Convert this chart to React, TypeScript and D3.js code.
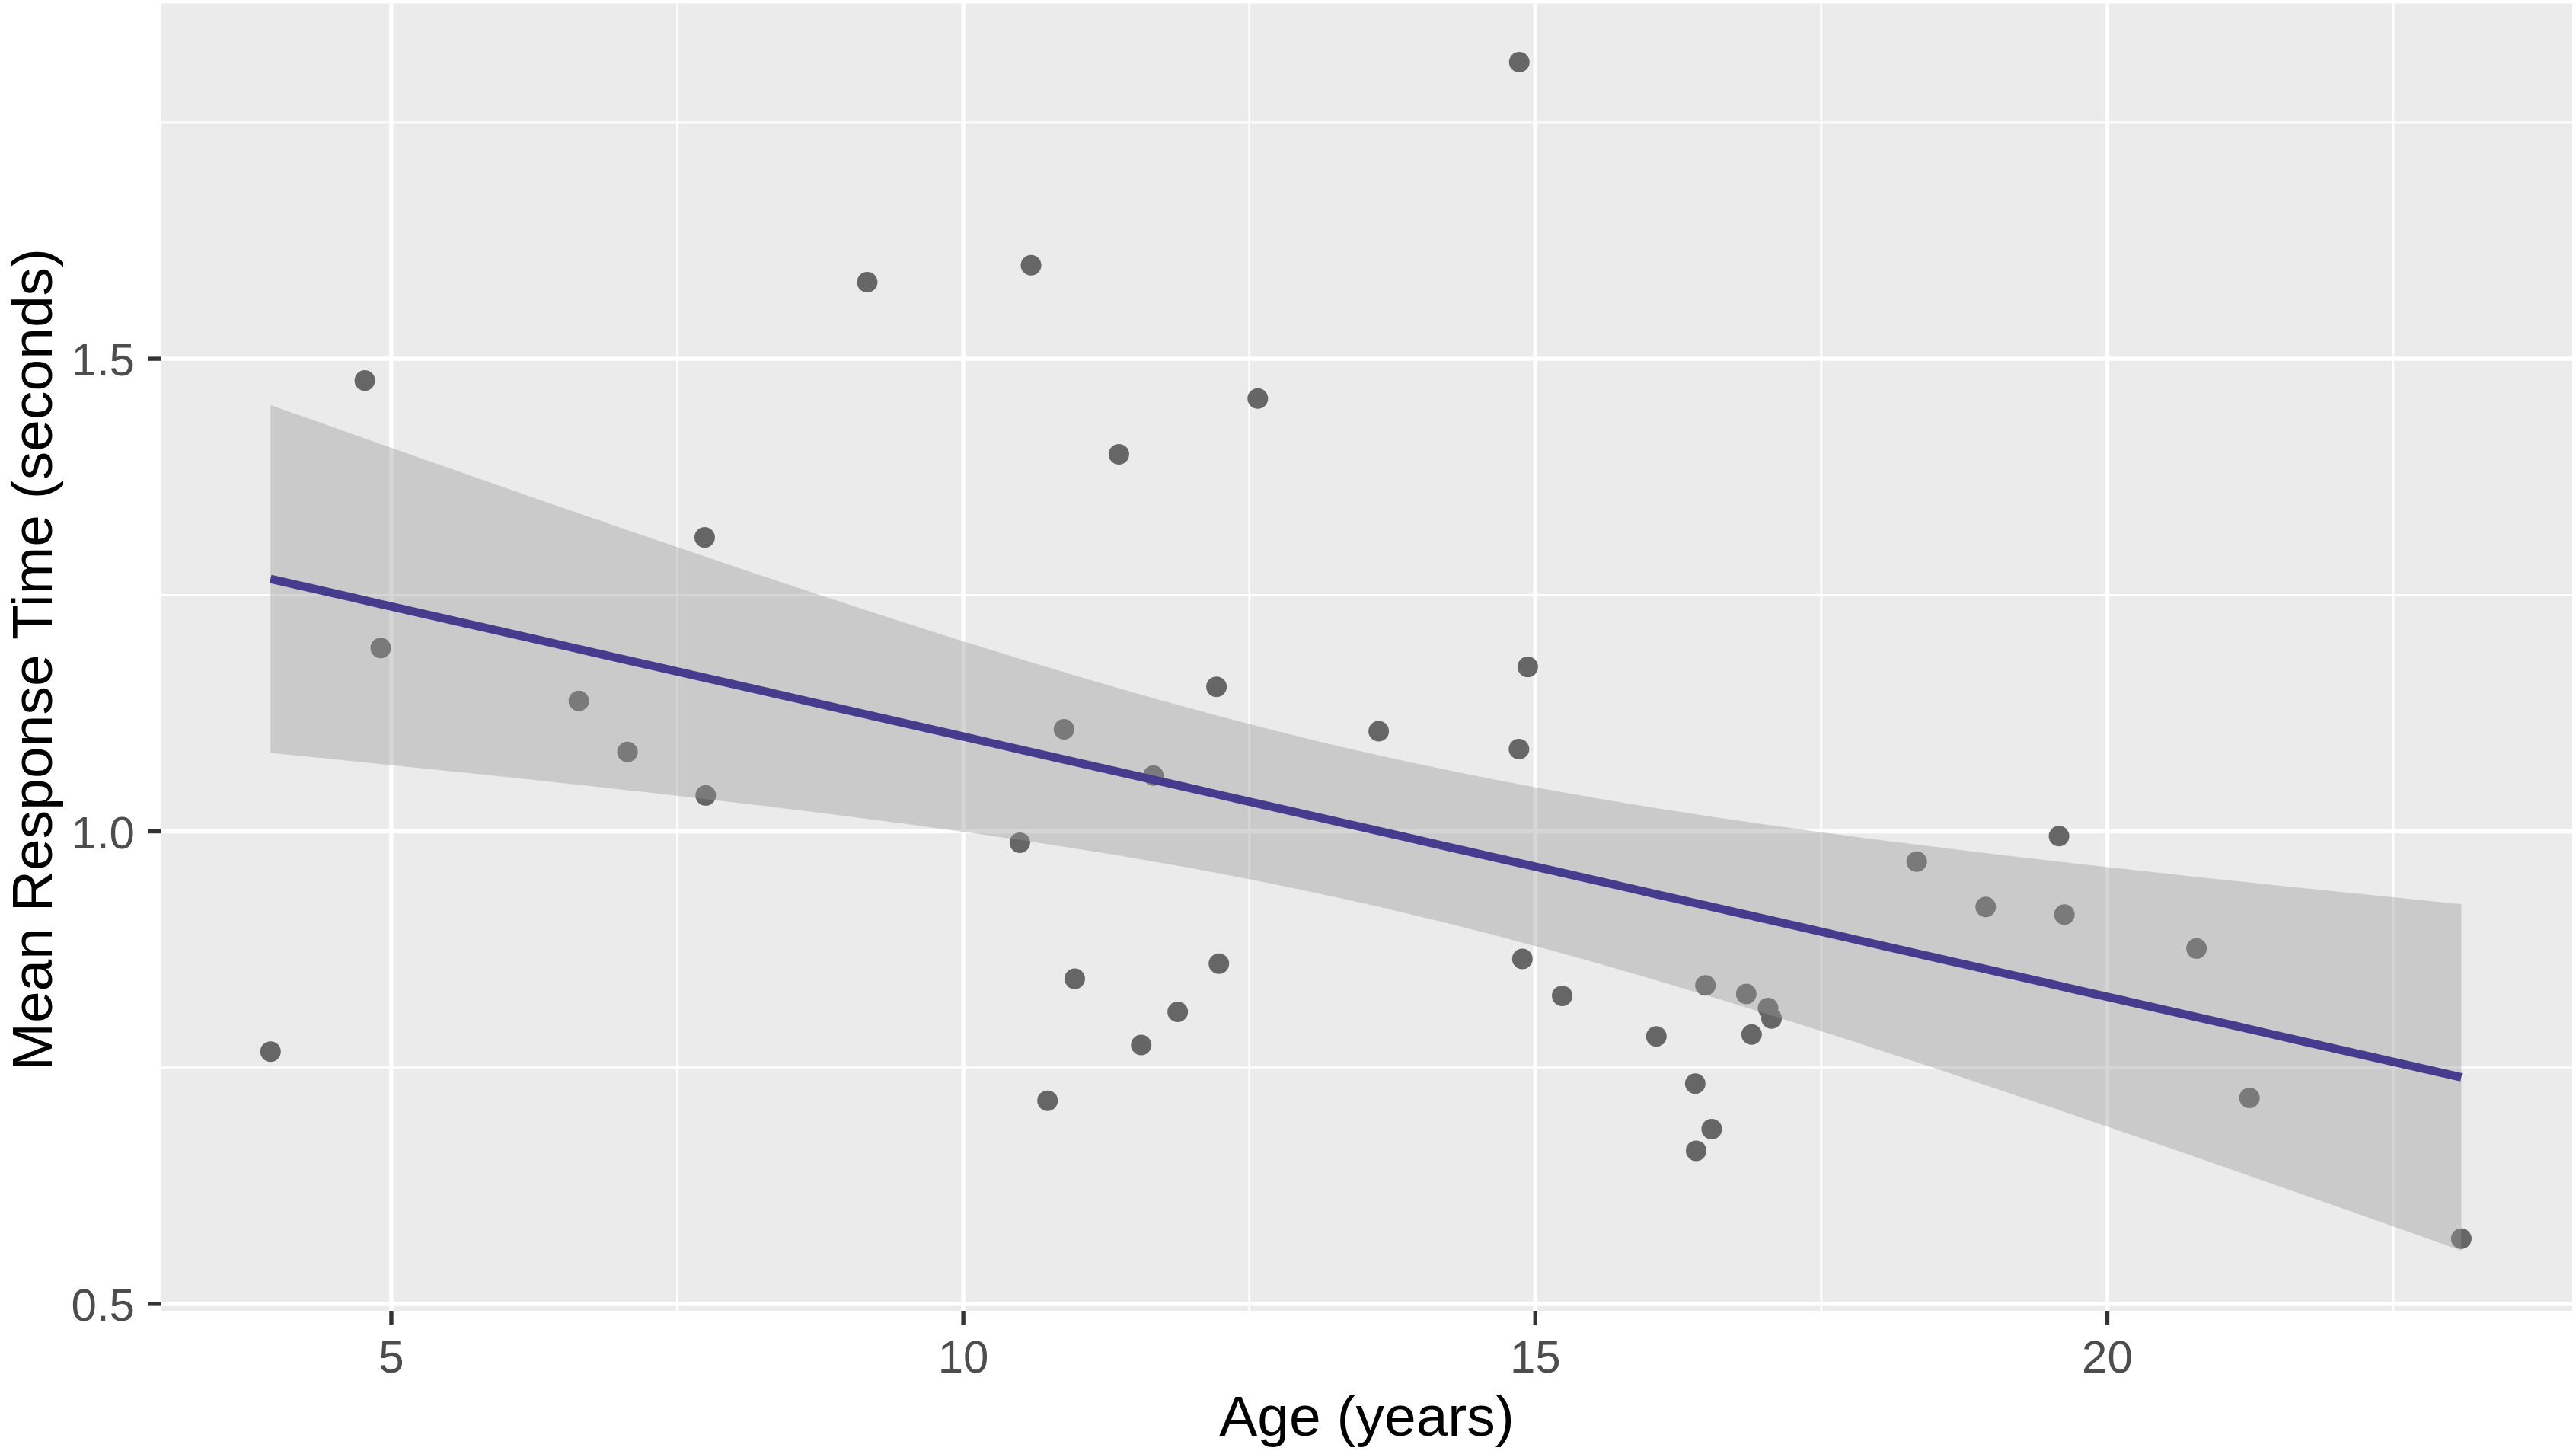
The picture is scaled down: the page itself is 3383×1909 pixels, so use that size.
import React, { useMemo } from 'react';
import * as d3 from 'd3';

// ---- Data ----
const ages = [
  3.944, 4.768, 4.907, 6.639, 7.064, 7.739, 7.748, 9.16, 10.494, 10.592,
  10.736, 10.88, 10.974, 11.36, 11.555, 11.661, 11.874, 12.213, 12.234, 12.574,
  13.631, 14.86, 14.857, 14.887, 14.934, 15.235, 16.058, 16.398, 16.406, 16.487,
  16.542, 16.844, 16.891, 17.035, 17.065, 18.334, 18.937, 19.578, 19.625, 20.78,
  21.243, 23.095,
];
const responseTimes = [
  0.767, 1.477, 1.194, 1.138, 1.084, 1.311, 1.038, 1.581, 0.988, 1.599,
  0.715, 1.108, 0.844, 1.399, 0.774, 1.059, 0.809, 1.153, 0.86, 1.458,
  1.106, 1.814, 1.087, 0.865, 1.174, 0.826, 0.783, 0.733, 0.662, 0.837,
  0.685, 0.828, 0.785, 0.813, 0.802, 0.968, 0.92, 0.995, 0.912, 0.876,
  0.718, 0.569,
];
const xTicks = [5, 10, 15, 20];
const xTickLabels = ['5', '10', '15', '20'];
const xMinor = [7.5, 12.5, 17.5, 22.5];
const yTicks = [0.5, 1.0, 1.5];
const yTickLabels = ['0.5', '1.0', '1.5'];
const yMinor = [0.75, 1.25, 1.75];
const xDomain = [2.99, 24.064];
const yDomain = [0.4927, 1.876];
const tCrit = 2.0211; // t(0.975, df = 40)

const W = 3383;
const H = 1909;
const P = { left: 212, right: 3378, top: 4.5, bottom: 1721 };
const FONT = '"Liberation Sans", Arial, sans-serif';

export default function App() {
  const x = d3.scaleLinear().domain(xDomain).range([P.left, P.right]);
  const y = d3.scaleLinear().domain(yDomain).range([P.bottom, P.top]);

  const fit = useMemo(() => {
    const n = ages.length;
    const mx = d3.mean(ages) as number;
    const my = d3.mean(responseTimes) as number;
    let sxx = 0, sxy = 0;
    for (let i = 0; i < n; i++) {
      sxx += (ages[i] - mx) ** 2;
      sxy += (ages[i] - mx) * (responseTimes[i] - my);
    }
    const b = sxy / sxx;
    const a = my - b * mx;
    let rss = 0;
    for (let i = 0; i < n; i++) rss += (responseTimes[i] - (a + b * ages[i])) ** 2;
    const s = Math.sqrt(rss / (n - 2));
    const x0 = d3.min(ages) as number;
    const x1 = d3.max(ages) as number;
    return d3.range(80).map((k) => {
      const xv = x0 + ((x1 - x0) * k) / 79;
      const yv = a + b * xv;
      const se = s * Math.sqrt(1 / n + (xv - mx) ** 2 / sxx);
      return { x: xv, y: yv, lo: yv - tCrit * se, hi: yv + tCrit * se };
    });
  }, []);

  const area = d3
    .area<any>()
    .x((d) => x(d.x))
    .y0((d) => y(d.lo))
    .y1((d) => y(d.hi));
  const line = d3
    .line<any>()
    .x((d) => x(d.x))
    .y((d) => y(d.y));

  return (
    <svg
      width={W}
      height={H}
      style={{ position: 'absolute', left: 0, top: 0, background: '#fff' }}
      fontFamily={FONT}
    >
      <rect x={0} y={0} width={W} height={H} fill="#fff" />
      <rect x={P.left} y={P.top} width={P.right - P.left} height={P.bottom - P.top} fill="#EBEBEB" />
      {xMinor.map((v) => (
        <line key={'xm' + v} x1={x(v)} x2={x(v)} y1={P.top} y2={P.bottom} stroke="#fff" strokeWidth={2.7} />
      ))}
      {yMinor.map((v) => (
        <line key={'ym' + v} x1={P.left} x2={P.right} y1={y(v)} y2={y(v)} stroke="#fff" strokeWidth={2.7} />
      ))}
      {xTicks.map((v) => (
        <line key={'xg' + v} x1={x(v)} x2={x(v)} y1={P.top} y2={P.bottom} stroke="#fff" strokeWidth={5.4} />
      ))}
      {yTicks.map((v) => (
        <line key={'yg' + v} x1={P.left} x2={P.right} y1={y(v)} y2={y(v)} stroke="#fff" strokeWidth={5.4} />
      ))}
      {ages.map((a, i) => (
        <circle key={'p' + i} cx={x(a)} cy={y(responseTimes[i])} r={13.5} fill="#666666" />
      ))}
      <path d={area(fit) || ''} fill="#999999" fillOpacity={0.4} />
      <path d={line(fit) || ''} fill="none" stroke="#463C8E" strokeWidth={11} />

      {xTicks.map((v, i) => (
        <g key={'xt' + v}>
          <line x1={x(v)} x2={x(v)} y1={P.bottom} y2={P.bottom + 18} stroke="#333333" strokeWidth={5.4} />
          <text x={x(v)} y={1802} textAnchor="middle" fontSize={60} fill="#4D4D4D">
            {xTickLabels[i]}
          </text>
        </g>
      ))}
      {yTicks.map((v, i) => (
        <g key={'yt' + v}>
          <line x1={P.left - 18} x2={P.left} y1={y(v)} y2={y(v)} stroke="#333333" strokeWidth={5.4} />
          <text x={177} y={y(v) + 22} textAnchor="end" fontSize={60} fill="#4D4D4D">
            {yTickLabels[i]}
          </text>
        </g>
      ))}
      <text x={(P.left + P.right) / 2} y={1885} textAnchor="middle" fontSize={75} fill="#000">
        Age (years)
      </text>
      <text
        transform={`translate(68, ${(P.top + P.bottom) / 2 + 3}) rotate(-90)`}
        textAnchor="middle"
        fontSize={75}
        fill="#000"
      >
        Mean Response Time (seconds)
      </text>
    </svg>
  );
}
